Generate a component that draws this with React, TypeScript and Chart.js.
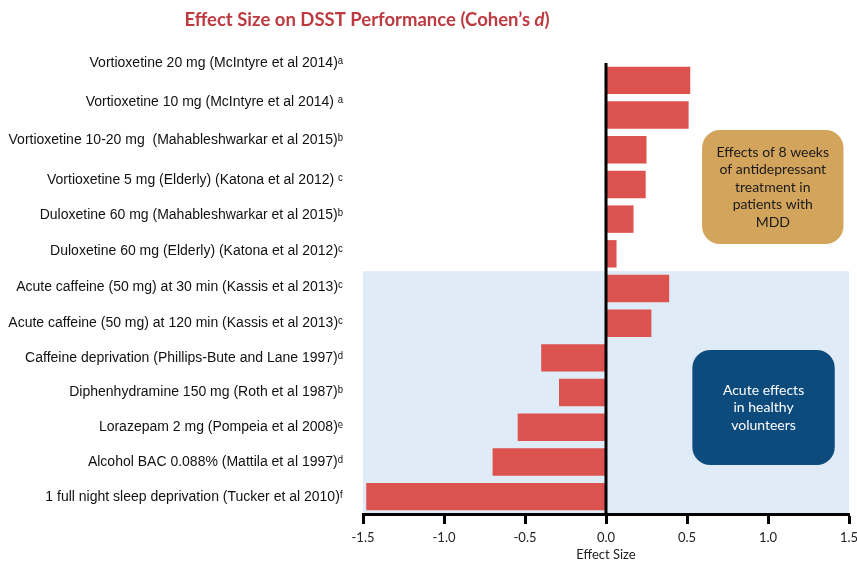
import React, { useEffect, useRef } from 'react';
import { Chart, registerables } from 'chart.js';

Chart.register(...registerables);

const categories: string[] = [
  'Vortioxetine 20 mg (McIntyre et al 2014)ᵃ',
  'Vortioxetine 10 mg (McIntyre et al 2014) ᵃ',
  'Vortioxetine 10-20 mg  (Mahableshwarkar et al 2015)ᵇ',
  'Vortioxetine 5 mg (Elderly) (Katona et al 2012) ᶜ',
  'Duloxetine 60 mg (Mahableshwarkar et al 2015)ᵇ',
  'Duloxetine 60 mg (Elderly) (Katona et al 2012)ᶜ',
  'Acute caffeine (50 mg) at 30 min (Kassis et al 2013)ᶜ',
  'Acute caffeine (50 mg) at 120 min (Kassis et al 2013)ᶜ',
  'Caffeine deprivation (Phillips-Bute and Lane 1997)ᵈ',
  'Diphenhydramine 150 mg (Roth et al 1987)ᵇ',
  'Lorazepam 2 mg (Pompeia et al 2008)ᵉ',
  'Alcohol BAC 0.088% (Mattila et al 1997)ᵈ',
  '1 full night sleep deprivation (Tucker et al 2010)ᶠ',
];

const effectSizes: number[] = [0.52, 0.51, 0.25, 0.245, 0.17, 0.065, 0.39, 0.28, -0.40, -0.29, -0.545, -0.70, -1.48];

// vertical nudge (px) of each category label relative to its bar, as in the original slide
const labelNudge: number[] = [-17, -13, -10, -4, -4, -3, -1, 0, 0, 0, 0, 0, 0];

const xMin = -1.5;
const xMax = 1.5;
const xStep = 0.5;

const titleMain = 'Effect Size on DSST Performance (Cohen’s ';
const titleItalic = 'd';
const titleEnd = ')';
const xAxisTitle = 'Effect Size';

// first category of the "healthy volunteers" group (shaded area)
const shadedFromIndex = 6;

const boxTexts: string[][] = [
  ['Effects of 8 weeks', 'of antidepressant', 'treatment in', 'patients with', 'MDD'],
  ['Acute effects', 'in healthy', 'volunteers'],
];
// [xStart, xEnd, yStart(category index), yEnd(category index)]
const boxExtents: number[][] = [
  [0.593, 1.466, 1.43, 4.72],
  [0.533, 1.412, 7.77, 11.09],
];
const boxFill = ['#D3A45C', '#0E4B7D'];
const boxTextColor = ['#1a1a1a', '#ffffff'];

const BAR_COLOR = '#DC524E';
const SHADE_COLOR = '#DFEBF7';
const TITLE_COLOR = '#BE3A41';

const shadePlugin = {
  id: 'shade',
  beforeDraw(chart: any) {
    const { ctx, chartArea, scales } = chart;
    const yTop = scales.y.getPixelForValue(shadedFromIndex - 0.5);
    ctx.save();
    ctx.fillStyle = SHADE_COLOR;
    ctx.fillRect(chartArea.left, yTop, chartArea.right - chartArea.left, chartArea.bottom - yTop);
    ctx.restore();
  },
};

function roundRect(ctx: CanvasRenderingContext2D, x: number, y: number, w: number, h: number, r: number) {
  ctx.beginPath();
  ctx.moveTo(x + r, y);
  ctx.lineTo(x + w - r, y);
  ctx.arcTo(x + w, y, x + w, y + r, r);
  ctx.lineTo(x + w, y + h - r);
  ctx.arcTo(x + w, y + h, x + w - r, y + h, r);
  ctx.lineTo(x + r, y + h);
  ctx.arcTo(x, y + h, x, y + h - r, r);
  ctx.lineTo(x, y + r);
  ctx.arcTo(x, y, x + r, y, r);
  ctx.closePath();
}

const overlayPlugin = {
  id: 'overlay',
  afterDatasetsDraw(chart: any) {
    const { ctx, chartArea, scales } = chart;
    // zero line
    const x0 = scales.x.getPixelForValue(0);
    ctx.save();
    ctx.strokeStyle = '#000';
    ctx.lineWidth = 3;
    ctx.beginPath();
    ctx.moveTo(x0, chartArea.top);
    ctx.lineTo(x0, chartArea.bottom);
    ctx.stroke();

    // boxes
    boxExtents.forEach((b, i) => {
      const left = scales.x.getPixelForValue(b[0]);
      const right = scales.x.getPixelForValue(b[1]);
      const top = scales.y.getPixelForValue(b[2]);
      const bottom = scales.y.getPixelForValue(b[3]);
      ctx.fillStyle = boxFill[i];
      roundRect(ctx, left, top, right - left, bottom - top, 18);
      ctx.fill();
      ctx.fillStyle = boxTextColor[i];
      ctx.font = '14px Lato, "Open Sans", sans-serif';
      ctx.textAlign = 'center';
      ctx.textBaseline = 'middle';
      const lines = boxTexts[i];
      const lh = 17.5;
      const cx = (left + right) / 2;
      const cy = (top + bottom) / 2;
      lines.forEach((t, j) => {
        ctx.fillText(t, cx, cy + (j - (lines.length - 1) / 2) * lh);
      });
    });
    ctx.restore();
  },
  afterDraw(chart: any) {
    const { ctx, chartArea, scales } = chart;
    ctx.save();
    // category labels
    ctx.fillStyle = '#111';
    ctx.font = '14px "Liberation Sans", Arial, sans-serif';
    ctx.textAlign = 'right';
    ctx.textBaseline = 'middle';
    categories.forEach((label, i) => {
      const y = scales.y.getPixelForValue(i) + (labelNudge[i] || 0);
      ctx.fillText(label, chartArea.left - 20, y);
    });

    // title
    ctx.fillStyle = TITLE_COLOR;
    ctx.textBaseline = 'alphabetic';
    ctx.textAlign = 'left';
    const fontBold = 'bold 18.5px Lato, "Open Sans", sans-serif';
    const fontItalic = 'italic bold 18.5px Lato, "Open Sans", sans-serif';
    ctx.font = fontBold;
    const w1 = ctx.measureText(titleMain).width;
    const w3 = ctx.measureText(titleEnd).width;
    ctx.font = fontItalic;
    const w2 = ctx.measureText(titleItalic).width;
    const total = w1 + w2 + w3;
    const cx = 367;
    const y = 26;
    let x = cx - total / 2;
    ctx.font = fontBold;
    ctx.fillText(titleMain, x, y);
    x += w1;
    ctx.font = fontItalic;
    ctx.fillText(titleItalic, x, y);
    x += w2;
    ctx.font = fontBold;
    ctx.fillText(titleEnd, x, y);
    ctx.restore();
  },
};

export default function App() {
  const ref = useRef<HTMLCanvasElement | null>(null);

  useEffect(() => {
    document.body.style.margin = '0';
    const canvas = ref.current;
    if (!canvas) return;
    const chart = new Chart(canvas, {
      type: 'bar',
      data: {
        labels: categories,
        datasets: [
          {
            data: effectSizes,
            backgroundColor: BAR_COLOR,
            borderWidth: 0,
            barPercentage: 0.79,
            categoryPercentage: 1,
          },
        ],
      },
      options: {
        indexAxis: 'y',
        animation: false,
        responsive: false,
        maintainAspectRatio: false,
        layout: { padding: { top: 63, right: 8, left: 0, bottom: 0 } },
        plugins: {
          legend: { display: false },
          title: { display: false },
          tooltip: { enabled: false },
        },
        scales: {
          x: {
            type: 'linear',
            min: xMin,
            max: xMax,
            ticks: {
              stepSize: xStep,
              padding: 6,
              color: '#222',
              font: { family: 'Lato, "Open Sans", sans-serif', size: 13 },
              callback: (v: any) => Number(v).toFixed(1),
            },
            grid: {
              display: true,
              drawOnChartArea: false,
              drawTicks: true,
              tickLength: 10,
              tickWidth: 3,
              tickColor: '#000',
            },
            border: { display: true, color: '#000', width: 3 },
            title: {
              display: true,
              text: xAxisTitle,
              color: '#222',
              font: { family: 'Lato, "Open Sans", sans-serif', size: 13 },
              padding: { top: 0, bottom: 0 },
            },
            afterFit: (scale: any) => {
              scale.height = 49;
              scale.paddingRight = 0;
              scale.paddingLeft = 0;
            },
          },
          y: {
            type: 'category',
            grid: { display: false, drawTicks: false },
            border: { display: false },
            ticks: { display: false },
            afterFit: (scale: any) => {
              scale.width = 363;
            },
          },
        },
      },
      plugins: [shadePlugin, overlayPlugin],
    });
    return () => chart.destroy();
  }, []);

  return (
    <div style={{ width: 857, height: 563 }}>
      <canvas ref={ref} width={857} height={563} style={{ display: 'block' }} />
    </div>
  );
}
